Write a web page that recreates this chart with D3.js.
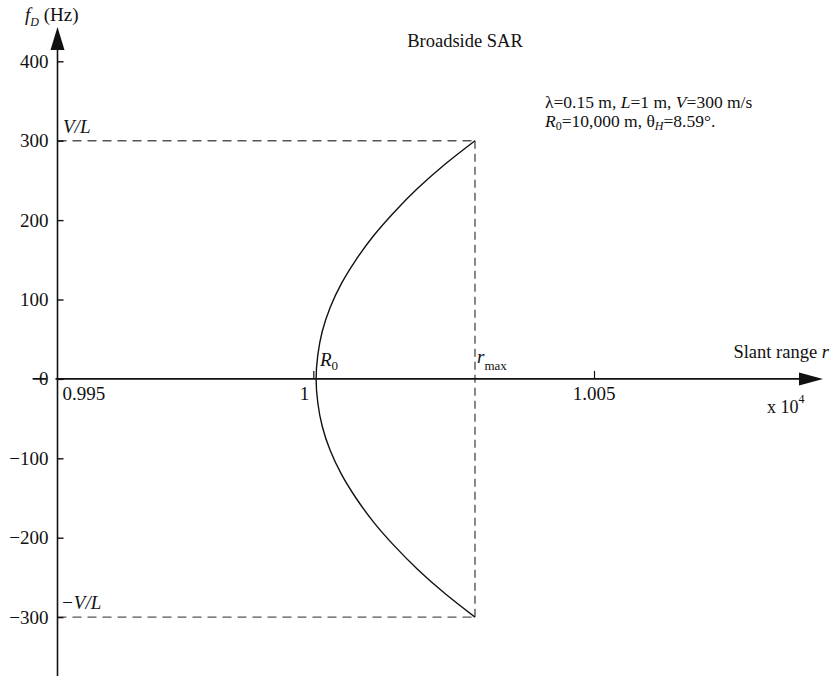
<!DOCTYPE html>
<html>
<head>
<meta charset="utf-8">
<script src="https://cdn.jsdelivr.net/npm/d3@7"></script>
<style>
  html, body { margin: 0; padding: 0; background: #fff; }
  svg { display: block; }
  svg text { font-family: "Liberation Serif", "Times New Roman", serif !important; fill: #111; }
</style>
</head>
<body>
<svg id="chart" width="834" height="676"></svg>
<script>
// Doppler frequency (Hz) versus slant range (x 10^4 m), broadside geometry
const dopplerHz = [-300, -270, -240, -210, -180, -150, -120, -90, -60, -30, 0,
                   30, 60, 90, 120, 150, 180, 210, 240, 270, 300];
const slantRange = [1.00288, 1.00234, 1.00186, 1.00144, 1.00107, 1.00076, 1.00050, 1.00030, 1.00016, 1.00008, 1.00005,
                    1.00008, 1.00016, 1.00030, 1.00050, 1.00076, 1.00107, 1.00144, 1.00186, 1.00234, 1.00288];

const yTicks = [400, 300, 200, 100, 0, -100, -200, -300];
const xTicks = [0.995, 1, 1.005];
const xTickLabels = ["0.995", "1", "1.005"];

const dopplerLimit = 300;     // V/L
const rangeMax = 1.00288;     // r_max

const svg = d3.select("#chart");

const x = d3.scaleLinear().domain([0.995, 1.005]).range([32.6, 594]);
const y = d3.scaleLinear().domain([-300, 400]).range([617.1, 61.3]);

const axisX = 57.5;
const axisY = y(0);
const ink = "#111";
const fs = 19;

// dashed guides at +/- V/L and r_max
const guide = svg.append("g")
  .attr("stroke", "#555").attr("stroke-width", 1.4)
  .attr("stroke-dasharray", "9,6").attr("fill", "none");
[dopplerLimit, -dopplerLimit].forEach(f => {
  guide.append("line")
    .attr("x1", axisX).attr("x2", x(rangeMax))
    .attr("y1", y(f)).attr("y2", y(f));
});
guide.append("line")
  .attr("stroke-dasharray", "8,5")
  .attr("x1", x(rangeMax)).attr("x2", x(rangeMax))
  .attr("y1", y(dopplerLimit)).attr("y2", y(-dopplerLimit));

// x axis line with arrow head
svg.append("line")
  .attr("x1", x(0.995)).attr("x2", 805)
  .attr("y1", axisY).attr("y2", axisY)
  .attr("stroke", ink).attr("stroke-width", 1.6);
svg.append("path")
  .attr("d", `M823,${axisY} L799,${axisY - 6.5} L799,${axisY + 6.5} Z`)
  .attr("fill", ink);

// x ticks pointing up
const xAxis = d3.axisBottom(x).tickValues(xTicks.slice(1)).tickSize(-8).tickFormat("");
const gx = svg.append("g").attr("transform", `translate(0,${axisY})`).call(xAxis);
gx.select(".domain").remove();
gx.selectAll(".tick line").attr("stroke", ink).attr("stroke-width", 1.2);

// x tick labels
xTicks.forEach((v, i) => {
  let tx = x(v), anchor = "middle";
  if (i === 0) { tx = axisX + 5; anchor = "start"; }
  if (i === 1) { tx = x(v) - 4; anchor = "end"; }
  svg.append("text").attr("x", tx).attr("y", axisY + 21)
    .attr("text-anchor", anchor).attr("font-size", fs).text(xTickLabels[i]);
});

// y axis with ticks on the right and labels on the left
const yAxis = d3.axisLeft(y).tickValues(yTicks).tickSize(-6).tickPadding(9)
  .tickFormat(d3.format("d"));
const gy = svg.append("g").attr("transform", `translate(${axisX},0)`).call(yAxis);
gy.attr("font-size", null).attr("font-family", null);
gy.select(".domain").remove();
gy.selectAll(".tick line").attr("stroke", ink).attr("stroke-width", 1.4);
gy.selectAll(".tick text").attr("font-size", fs).attr("fill", ink);
// the zero label sits on a white box over the x axis
gy.selectAll(".tick").filter(d => d === 0).each(function () {
  const t = d3.select(this);
  const bb = t.select("text").node().getBBox();
  t.insert("rect", "text")
    .attr("x", bb.x + 7).attr("y", bb.y + 3).attr("width", -bb.x - 9).attr("height", bb.height - 6)
    .attr("fill", "#fff");
  t.select("text").raise();
});

svg.append("line")
  .attr("x1", axisX).attr("x2", axisX)
  .attr("y1", 45).attr("y2", 676)
  .attr("stroke", ink).attr("stroke-width", 1.6);
svg.append("path")
  .attr("d", `M${axisX},27 L${axisX - 7},50 L${axisX + 7},50 Z`)
  .attr("fill", ink);

// Doppler curve
const line = d3.line()
  .x((d, i) => x(slantRange[i]))
  .y(d => y(d))
  .curve(d3.curveCatmullRom.alpha(0.5));
svg.append("path")
  .datum(dopplerHz)
  .attr("d", line)
  .attr("fill", "none").attr("stroke", ink).attr("stroke-width", 1.4);

// labels
const fd = svg.append("text").attr("x", 25).attr("y", 21).attr("font-size", fs);
fd.append("tspan").attr("font-style", "italic").text("f");
fd.append("tspan").attr("font-style", "italic").attr("font-size", 12).attr("dy", 5).text("D");
fd.append("tspan").attr("dy", -5).text(" (Hz)");

svg.append("text").attr("x", 465).attr("y", 47).attr("text-anchor", "middle")
  .attr("font-size", 18.5).text("Broadside SAR");

const p1 = svg.append("text").attr("x", 545).attr("y", 108).attr("font-size", 17.5);
p1.append("tspan").text("λ=0.15 m, ");
p1.append("tspan").attr("font-style", "italic").text("L");
p1.append("tspan").text("=1 m, ");
p1.append("tspan").attr("font-style", "italic").text("V");
p1.append("tspan").text("=300 m/s");

const p2 = svg.append("text").attr("x", 545).attr("y", 127).attr("font-size", 17.5);
p2.append("tspan").attr("font-style", "italic").text("R");
p2.append("tspan").attr("font-size", 12).attr("dy", 3).text("0");
p2.append("tspan").attr("dy", -3).text("=10,000 m, θ");
p2.append("tspan").attr("font-style", "italic").attr("font-size", 12).attr("dy", 3).text("H");
p2.append("tspan").attr("dy", -3).text("=8.59°.");

svg.append("text").attr("x", 63).attr("y", y(dopplerLimit) - 8)
  .attr("font-size", fs).attr("font-style", "italic").text("V/L");
svg.append("text").attr("x", 61).attr("y", y(-dopplerLimit) - 8)
  .attr("font-size", fs).attr("font-style", "italic").text("−V/L");

const r0 = svg.append("text").attr("x", 320).attr("y", axisY - 13).attr("font-size", fs);
r0.append("tspan").attr("font-style", "italic").text("R");
r0.append("tspan").attr("font-size", 13).attr("dy", 4).text("0");

const rm = svg.append("text").attr("x", x(rangeMax) + 2).attr("y", axisY - 16).attr("font-size", fs);
rm.append("tspan").attr("font-style", "italic").text("r");
rm.append("tspan").attr("font-size", 13).attr("dy", 7).text("max");

const sr = svg.append("text").attr("x", 829).attr("y", axisY - 21).attr("text-anchor", "end").attr("font-size", 18.5);
sr.append("tspan").text("Slant range ");
sr.append("tspan").attr("font-style", "italic").text("r");

const ex = svg.append("text").attr("x", 767).attr("y", axisY + 34).attr("font-size", 18);
ex.append("tspan").text("x 10");
ex.append("tspan").attr("font-size", 12).attr("dy", -10).text("4");
</script>
</body>
</html>
